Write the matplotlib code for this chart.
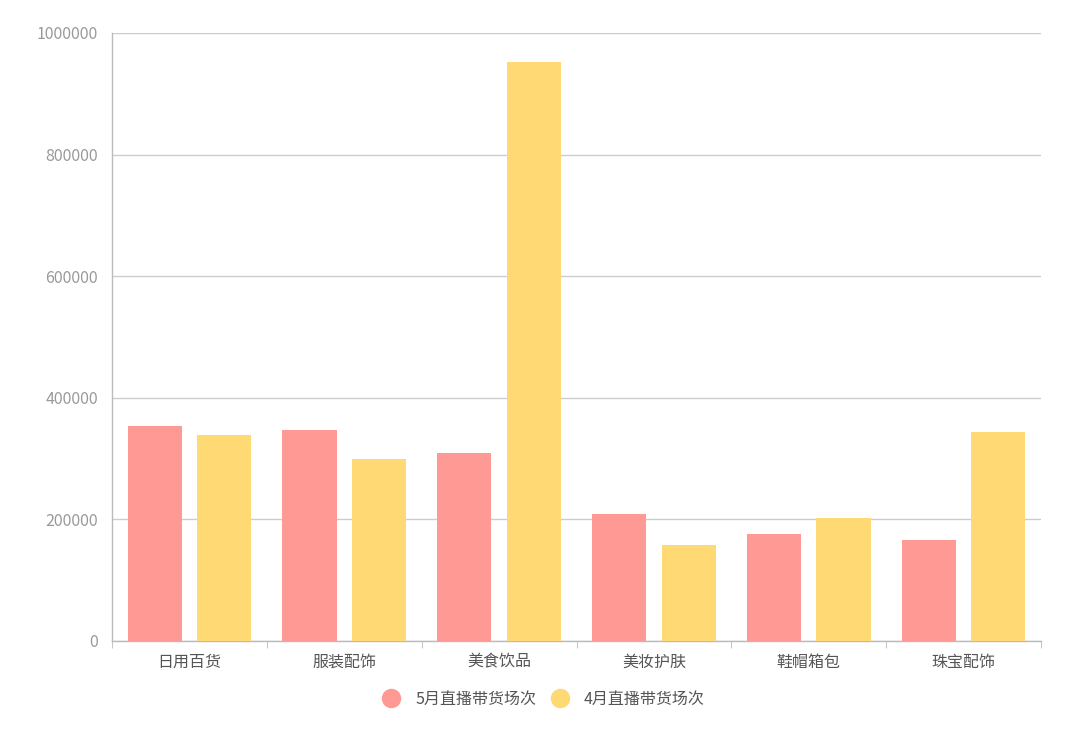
import numpy as np
import matplotlib.pyplot as plt

plt.rcParams['font.family'] = ['Noto Sans CJK SC', 'DejaVu Sans']

categories = ['日用百货', '服装配饰', '美食饮品', '美妆护肤', '鞋帽箱包', '珠宝配饰']
may = [354000, 347000, 309000, 209000, 176000, 166000]
april = [339000, 299000, 952000, 158000, 202000, 344000]
series_names = ['5月直播带货场次', '4月直播带货场次']
colors = ['#FF9994', '#FED974']

fig = plt.figure(figsize=(10.8, 7.55), dpi=100)
ax = fig.add_axes([0.1037, 0.151, 0.8602, 0.8053])

x = np.arange(len(categories))
w = 0.35
off = 0.224
ax.bar(x - off, may, w, color=colors[0], zorder=3)
ax.bar(x + off, april, w, color=colors[1], zorder=3)

ax.set_xlim(-0.5, len(categories) - 0.5)
ax.set_ylim(0, 1000000)
ax.set_yticks(np.arange(0, 1000001, 200000))
ax.set_yticklabels([str(v) for v in range(0, 1000001, 200000)])
ax.yaxis.grid(True, color='#CCCCCC', linewidth=1, zorder=0)

ax.set_xticks(x)
ax.set_xticklabels(categories)
ax.set_xticks(np.arange(-0.5, len(categories)), minor=True)
ax.tick_params(axis='x', which='major', length=0, pad=9, labelsize=11.5, labelcolor='#555555')
ax.tick_params(axis='x', which='minor', length=5, color='#BBBBBB', direction='out')
ax.tick_params(axis='y', length=0, pad=10, labelsize=11.5, labelcolor='#999999')

for s in ['top', 'right']:
    ax.spines[s].set_visible(False)
for s in ['left', 'bottom']:
    ax.spines[s].set_color('#BBBBBB')
    ax.spines[s].set_linewidth(1)

handles = [plt.Line2D([], [], marker='o', linestyle='', markersize=13,
                      markerfacecolor=c, markeredgecolor=c) for c in colors]
fig.legend(handles, series_names, loc='center', bbox_to_anchor=(0.5, 0.074),
           ncol=2, frameon=False, fontsize=11.5, handletextpad=0.5, columnspacing=0.5,
           labelcolor='#555555')

fig.savefig('out.png', dpi=100)
